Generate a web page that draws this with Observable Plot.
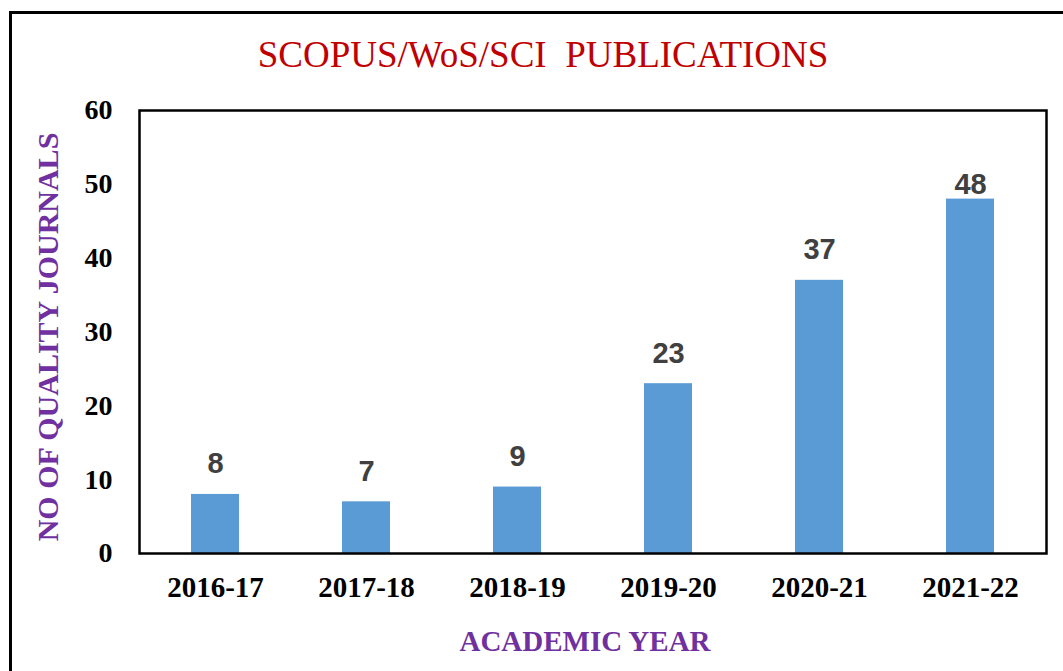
<!DOCTYPE html>
<html>
<head>
<meta charset="utf-8">
<script src="https://cdn.jsdelivr.net/npm/d3@7"></script>
<script src="https://cdn.jsdelivr.net/npm/@observablehq/plot@0.6"></script>
<style>
  html, body { margin: 0; padding: 0; background: #fff; }
  #wrap { position: relative; width: 1063px; height: 671px; overflow: hidden; background: #fff; }
  #outer { position: absolute; left: 9px; top: 11px; width: 1200px; height: 800px; border: 3px solid #000; box-sizing: border-box; }
  #title { position: absolute; left: 0; width: 1086px; top: 33px; text-align: center;
           font-family: "Liberation Serif", "Times New Roman", serif; font-size: 37px; color: #C00000;
           white-space: pre; line-height: 44px; }
  #chart { position: absolute; left: 0; top: 0; }
</style>
</head>
<body>
<div id="wrap">
  <div id="outer"></div>
  <div id="title">SCOPUS/WoS/SCI  PUBLICATIONS</div>
  <div id="chart"></div>
</div>
<script>
const years = ["2016-17", "2017-18", "2018-19", "2019-20", "2020-21", "2021-22"];
const counts = [8, 7, 9, 23, 37, 48];
const yTicks = [0, 10, 20, 30, 40, 50, 60];
const xLabel = "ACADEMIC YEAR";
const yLabel = "NO OF QUALITY JOURNALS";

const data = years.map((y, i) => ({year: y, value: counts[i]}));
const maxVal = d3.max(counts);
const serif = "'Liberation Serif', 'Times New Roman', serif";

const chart = Plot.plot({
  width: 1063,
  height: 671,
  marginTop: 110,
  marginBottom: 118,
  marginLeft: 139,
  marginRight: 17,
  style: {background: "transparent", overflow: "visible"},
  x: {domain: years, paddingInner: 0.68, paddingOuter: 0.34, label: null},
  y: {domain: [0, 60], label: null},
  marks: [
    Plot.barY(data, {x: "year", y: "value", fill: "#5B9BD5"}),
    Plot.frame({stroke: "#000", strokeWidth: 2.5}),
    Plot.axisY({ticks: yTicks, tickSize: 0, tickPadding: 27, label: null,
      fontSize: 28, fontWeight: "bold", fontFamily: serif, fill: "#000"}),
    Plot.axisX({tickSize: 0, tickPadding: 23, label: null,
      fontSize: 29, fontWeight: "bold", fontFamily: serif, fill: "#000"}),
    Plot.text(data.filter(d => d.value < maxVal), {x: "year", y: "value", text: d => String(d.value),
      dy: -21, lineAnchor: "bottom", fill: "#404040", fontSize: 29, fontWeight: "bold",
      fontFamily: "'Liberation Sans', Arial, sans-serif"}),
    Plot.text(data.filter(d => d.value === maxVal), {x: "year", y: "value", text: d => String(d.value),
      dy: -5, lineAnchor: "bottom", fill: "#404040", fontSize: 29, fontWeight: "bold",
      fontFamily: "'Liberation Sans', Arial, sans-serif"}),
    Plot.text([yLabel], {frameAnchor: "left", dx: -91, dy: 5, rotate: -90, text: d => d,
      textAnchor: "middle", lineAnchor: "middle", fill: "#7030A0", fontSize: 30, fontWeight: "bold",
      fontFamily: serif}),
    Plot.text([xLabel], {frameAnchor: "bottom", dx: -8, dy: 88, text: d => d,
      textAnchor: "middle", lineAnchor: "middle", fill: "#7030A0", fontSize: 29, fontWeight: "bold",
      fontFamily: serif})
  ]
});
document.getElementById("chart").appendChild(chart);
</script>
</body>
</html>
